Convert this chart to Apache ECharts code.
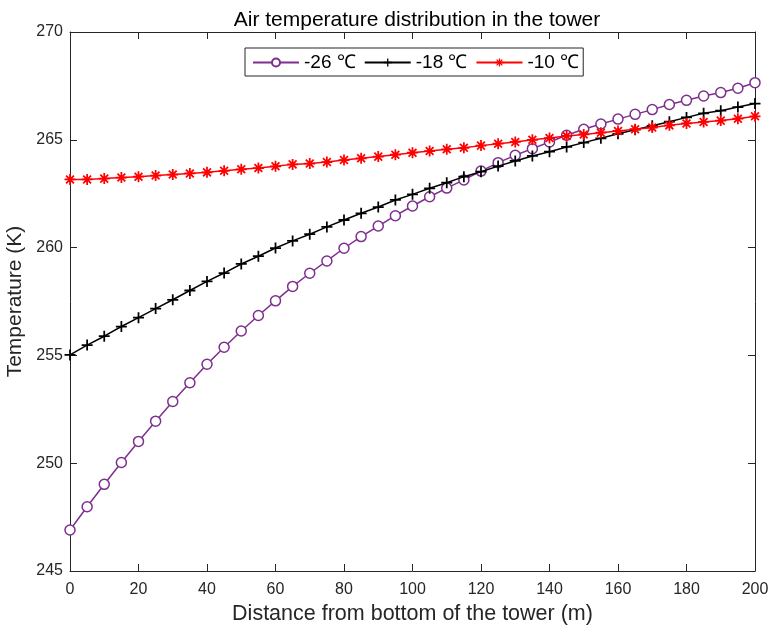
<!DOCTYPE html>
<html>
    <head>
        <meta charset="utf-8">
        <title>Air temperature distribution in the tower</title>
        <script src="https://cdn.jsdelivr.net/npm/echarts@6/dist/echarts.min.js"></script>
        <style>
            html, body { margin: 0; padding: 0; background: #fff; }
            #main { width: 769px; height: 632px; }
        </style>
    </head>
    <body>
        <div id="main"></div>
        <script type="text/javascript">
            // distance from bottom of the tower (m), every 5 m
            var distance = [0, 5, 10, 15, 20, 25, 30, 35, 40, 45, 50, 55, 60, 65, 70, 75, 80, 85, 90, 95,
                            100, 105, 110, 115, 120, 125, 130, 135, 140, 145, 150, 155, 160, 165, 170, 175, 180, 185, 190, 195, 200];
            // air temperature (K) for each ambient temperature
            var tempMinus26 = [246.90, 247.98, 249.02, 250.03, 251.01, 251.95, 252.86, 253.73, 254.59, 255.38,
                               256.13, 256.85, 257.53, 258.20, 258.81, 259.38, 259.97, 260.51, 261.00, 261.48,
                               261.93, 262.36, 262.76, 263.14, 263.55, 263.94, 264.28, 264.59, 264.90, 265.21,
                               265.49, 265.73, 265.96, 266.18, 266.40, 266.64, 266.83, 267.03, 267.19, 267.39, 267.65];
            var tempMinus18 = [255.02, 255.48, 255.89, 256.34, 256.75, 257.17, 257.58, 258.01, 258.43, 258.82,
                               259.24, 259.60, 259.98, 260.31, 260.62, 260.96, 261.28, 261.59, 261.88, 262.21,
                               262.47, 262.75, 263.01, 263.29, 263.52, 263.78, 264.02, 264.25, 264.45, 264.67,
                               264.87, 265.07, 265.28, 265.47, 265.65, 265.84, 266.04, 266.23, 266.35, 266.52, 266.68];
            var tempMinus10 = [263.16, 263.16, 263.20, 263.25, 263.29, 263.34, 263.39, 263.44, 263.49, 263.56,
                               263.63, 263.69, 263.77, 263.86, 263.90, 263.97, 264.06, 264.14, 264.22, 264.31,
                               264.40, 264.48, 264.56, 264.63, 264.73, 264.82, 264.90, 265.00, 265.08, 265.18,
                               265.25, 265.33, 265.41, 265.49, 265.57, 265.67, 265.76, 265.83, 265.89, 265.98, 266.09];
            var seriesNames = ['-26 ℃', '-18 ℃', '-10 ℃'];

            function pairs(ys) {
                var out = [];
                for (var i = 0; i < distance.length; i++) {
                    out.push([distance[i], ys[i]]);
                }
                return out;
            }

            var plusPath = 'path://M4.2,0H5.8V4.2H10V5.8H5.8V10H4.2V5.8H0V4.2H4.2Z';
            var starPath = 'path://M0,4.2H10V5.8H0Z M4.2,0H5.8V10H4.2Z M2.03,0.89L9.11,7.97L7.97,9.11L0.89,2.03Z M0.89,7.97L7.97,0.89L9.11,2.03L2.03,9.11Z';

            var axisColor = '#262626';
            var fontMain = 'Liberation Sans, Arial, sans-serif';

            // box frame: every axis keeps to its own edge, ticks point into the plot
            function frameAxis(extra) {
                var base = {
                    axisLine: { show: true, onZero: false, lineStyle: { color: axisColor, width: 1 } },
                    axisTick: { show: true, inside: true, length: 7, lineStyle: { color: axisColor } },
                    splitLine: { show: false }
                };
                for (var k in extra) base[k] = extra[k];
                return base;
            }

            var dom = document.getElementById('main');
            var myChart = echarts.init(dom, null, { renderer: 'canvas' });

            var option = {
                animation: false,
                backgroundColor: '#fff',
                title: {
                    text: 'Air temperature distribution in the tower',
                    left: 412,
                    textAlign: 'center',
                    top: 5,
                    textStyle: { fontFamily: fontMain, fontSize: 21, fontWeight: 'normal', color: '#000' }
                },
                legend: {
                    left: 245,
                    top: 48,
                    orient: 'horizontal',
                    backgroundColor: '#fff',
                    borderColor: axisColor,
                    borderWidth: 1,
                    borderRadius: 0,
                    padding: [5, 4, 4, 7],
                    itemWidth: 46,
                    itemHeight: 10,
                    itemGap: 8,
                    textStyle: { fontFamily: fontMain, fontSize: 19, color: '#000' },
                    data: seriesNames
                },
                grid: { left: 70, right: 14, top: 32, bottom: 61, containLabel: false, outerBoundsMode: 'none' },
                xAxis: [
                    frameAxis({
                        type: 'value',
                        position: 'bottom',
                        min: 0, max: 200, interval: 20,
                        name: 'Distance from bottom of the tower (m)',
                        nameLocation: 'middle',
                        nameGap: 31,
                        nameTextStyle: { fontFamily: fontMain, fontSize: 21.5, color: axisColor },
                        axisLabel: { fontFamily: fontMain, fontSize: 16, color: axisColor, margin: 11 }
                    }),
                    frameAxis({
                        type: 'value',
                        position: 'top',
                        min: 0, max: 200, interval: 20,
                        axisLabel: { show: false }
                    })
                ],
                yAxis: [
                    frameAxis({
                        type: 'value',
                        position: 'left',
                        min: 245, max: 270, interval: 5,
                        name: 'Temperature (K)',
                        nameLocation: 'middle',
                        nameGap: 39,
                        nameTextStyle: { fontFamily: fontMain, fontSize: 21, color: axisColor },
                        axisLabel: { fontFamily: fontMain, fontSize: 16, color: axisColor, margin: 7 }
                    }),
                    frameAxis({
                        type: 'value',
                        position: 'right',
                        min: 245, max: 270, interval: 5,
                        axisLabel: { show: false }
                    })
                ],
                series: [
                    {
                        name: seriesNames[0],
                        type: 'line',
                        data: pairs(tempMinus26),
                        symbol: 'circle',
                        symbolSize: 10,
                        color: '#7E2F8E',
                        lineStyle: { color: '#7E2F8E', width: 1.5 },
                        itemStyle: { color: '#fff', borderColor: '#7E2F8E', borderWidth: 1.5 },
                        z: 3
                    },
                    {
                        name: seriesNames[1],
                        type: 'line',
                        data: pairs(tempMinus18),
                        symbol: plusPath,
                        symbolSize: 11,
                        color: '#000',
                        lineStyle: { color: '#000', width: 1.5 },
                        itemStyle: { color: '#000' },
                        z: 4
                    },
                    {
                        name: seriesNames[2],
                        type: 'line',
                        data: pairs(tempMinus10),
                        symbol: starPath,
                        symbolSize: 11,
                        color: '#FF0000',
                        lineStyle: { color: '#FF0000', width: 1.5 },
                        itemStyle: { color: '#FF0000' },
                        z: 5
                    }
                ]
            };
            if (option && typeof option === "object") {
                myChart.setOption(option, true);
            }
        </script>
    </body>
</html>
